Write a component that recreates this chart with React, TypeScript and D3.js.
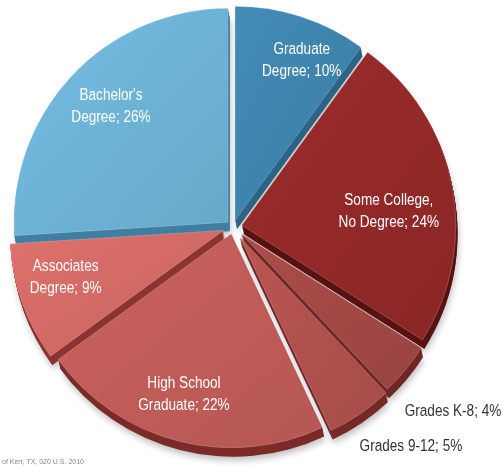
import React from 'react'
import * as d3 from 'd3'

// Educational attainment, share of population
const labels = ['Graduate Degree', 'Some College, No Degree', 'Grades K-8', 'Grades 9-12', 'High School Graduate', 'Associates Degree', "Bachelor's Degree"]
const lines = [
  ['Graduate', 'Degree; 10%'],
  ['Some College,', 'No Degree; 24%'],
  ['Grades K-8; 4%'],
  ['Grades 9-12; 5%'],
  ['High School', 'Graduate; 22%'],
  ['Associates', 'Degree; 9%'],
  ["Bachelor's", 'Degree; 26%'],
]
const values = [10, 24, 4, 5, 22, 9, 26]
const topColors = ['#3c80a8', '#8f2727', '#9e4643', '#ab4f4b', '#bb5a56', '#cc6762', '#6aaed0']
const sideColors = ['#2c6486', '#5a1212', '#6e2624', '#762a28', '#7c2b29', '#8c3431', '#3f7fa3']
const explode = [7, 9, 10, 12, 7, 10, 7]
const inside = [true, true, false, false, true, true, true]
// label nudges (px) from the arc centroid
const nudge: [number, number][] = [[14, 0], [-20, 16], [68, 17], [82, 1], [-5, -6], [2, -12], [7, -1]]

const W = 503
const H = 468
const cx = 233
const cy = 227
const R = 214
const depth = 9

export default function App() {
  const pie = d3.pie<number>().sort(null).value(d => d)
  const arcs = pie(values)
  const arc = d3.arc<d3.PieArcDatum<number>>().innerRadius(0).outerRadius(R)
  const labelArc = d3.arc<d3.PieArcDatum<number>>().innerRadius(170).outerRadius(170)
  const outArc = d3.arc<d3.PieArcDatum<number>>().innerRadius(R + 36).outerRadius(R + 36)

  const off = (a: d3.PieArcDatum<number>, i: number) => {
    const m = (a.startAngle + a.endAngle) / 2
    return [Math.sin(m) * explode[i], -Math.cos(m) * explode[i]]
  }

  const steps = d3.range(depth, 0, -1)

  return (
    <svg width={W} height={H} style={{ position: 'absolute', left: 0, top: 0, background: '#fff' }}
      fontFamily="'Liberation Sans', Arial, sans-serif">
      <defs>
        <filter id="sh" x="-20%" y="-20%" width="140%" height="140%">
          <feGaussianBlur stdDeviation="3" />
        </filter>
        {arcs.map((a, i) => (
          <linearGradient key={i} id={`g${i}`} x1="0" y1="0" x2="1" y2="1">
            <stop offset="0" stopColor={d3.color(topColors[i])!.brighter(0.25).toString()} />
            <stop offset="1" stopColor={d3.color(topColors[i])!.darker(0.1).toString()} />
          </linearGradient>
        ))}
      </defs>
      <g transform={`translate(${cx},${cy})`}>
        {/* soft shadow */}
        <g filter="url(#sh)" opacity={0.35}>
          {arcs.map((a, i) => {
            const [dx, dy] = off(a, i)
            return <path key={i} d={arc(a)!} transform={`translate(${dx + 3},${dy + depth + 4})`} fill="#555" />
          })}
        </g>
        {/* extruded sides */}
        {arcs.map((a, i) => {
          const [dx, dy] = off(a, i)
          return (
            <g key={i}>
              {steps.map(s => (
                <path key={s} d={arc(a)!} transform={`translate(${dx + s * 0.2},${dy + s})`} fill={sideColors[i]} />
              ))}
            </g>
          )
        })}
        {/* top faces */}
        {arcs.map((a, i) => {
          const [dx, dy] = off(a, i)
          return <path key={i} d={arc(a)!} transform={`translate(${dx},${dy})`} fill={`url(#g${i})`}
            stroke="#ffffff" strokeOpacity={0.25} strokeWidth={0.8} />
        })}
        {/* labels */}
        {arcs.map((a, i) => {
          const [dx, dy] = off(a, i)
          const c = inside[i] ? labelArc.centroid(a) : outArc.centroid(a)
          const x = c[0] + dx + nudge[i][0]
          const y = c[1] + dy + nudge[i][1]
          const ls = lines[i]
          return (
            <text key={i} transform={`translate(${x},${y}) scale(0.8,1)`} textAnchor={inside[i] ? 'middle' : 'end'}
              fontSize={17} fill={inside[i] ? '#ffffff' : '#333333'} aria-label={labels[i]}>
              {ls.map((t, j) => (
                <tspan key={j} x={0} y={(j - (ls.length - 1) / 2) * 22} dominantBaseline="central">{t}</tspan>
              ))}
            </text>
          )
        })}
      </g>
      <text x={2} y={464} fontSize={7} fill="#888">of Kerr, TX, 020 U.S. 2010</text>
    </svg>
  )
}
